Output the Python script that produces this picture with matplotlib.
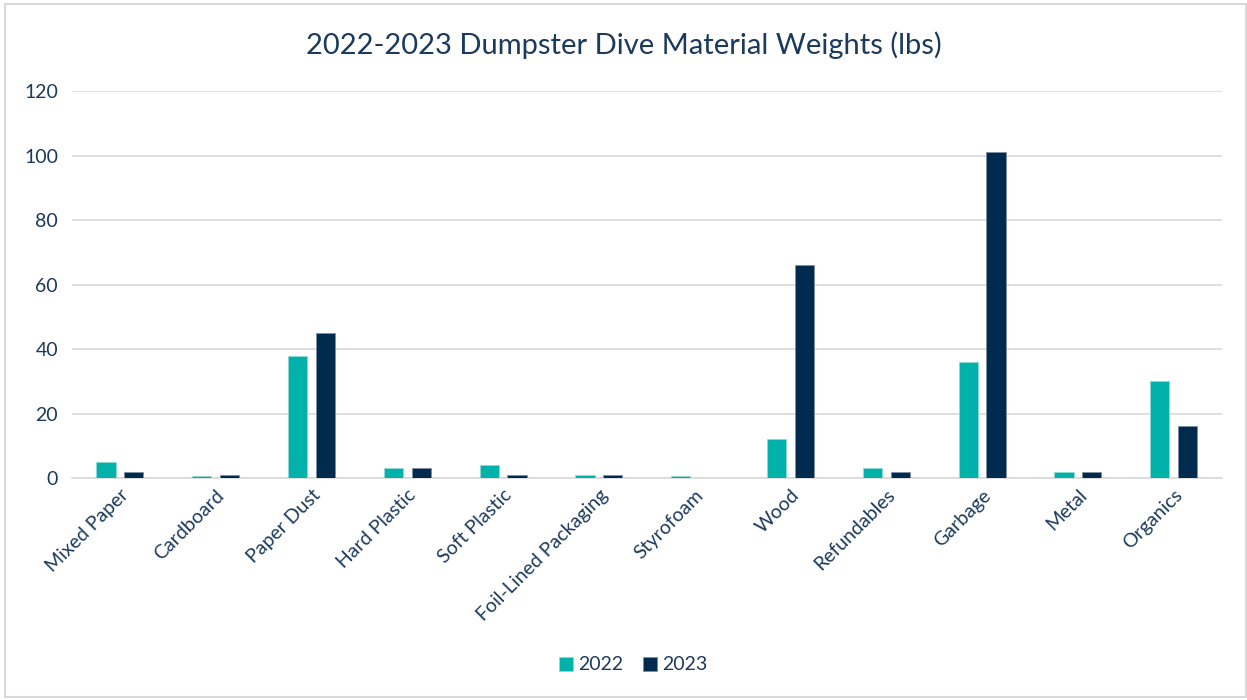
import numpy as np
import matplotlib
import matplotlib.pyplot as plt
from matplotlib.patches import Rectangle

matplotlib.rcParams['font.family'] = ['Lato', 'DejaVu Sans']

categories = ['Mixed Paper', 'Cardboard', 'Paper Dust', 'Hard Plastic', 'Soft Plastic',
              'Foil-Lined Packaging', 'Styrofoam', 'Wood', 'Refundables', 'Garbage',
              'Metal', 'Organics']
w2022 = [5, 0.5, 38, 3, 4, 1, 0.5, 12, 3, 36, 2, 30]
w2023 = [2, 1, 45, 3, 1, 1, 0, 66, 2, 101, 2, 16]
yticks = [0, 20, 40, 60, 80, 100, 120]

teal = '#00B2A9'
navy = '#002A4E'
txt = '#1B3A5C'

fig = plt.figure(figsize=(12.47, 7), dpi=100)
ax = fig.add_axes([0.0577, 0.317, 0.922, 0.553])

x = np.arange(len(categories))
off = 0.145
bw = 0.2
ax.bar(x - off, w2022, bw, color=teal, edgecolor='#8fd8d3', linewidth=0.6, label='2022', zorder=3)
ax.bar(x + off, w2023, bw, color=navy, edgecolor='#7d8fa3', linewidth=0.6, label='2023', zorder=3)

ax.set_xlim(-0.5, len(categories) - 0.5)
ax.set_ylim(0, 120)
ax.set_yticks(yticks)
ax.set_yticklabels([str(v) for v in yticks], fontsize=14, color=txt)
ax.yaxis.grid(True, color='#d9d9d9', linewidth=1.2, zorder=0)
ax.tick_params(axis='y', length=0, pad=10)
ax.tick_params(axis='x', length=0, pad=6)
ax.set_xticks(x)
ax.set_xticklabels(categories, rotation=45, ha='right', rotation_mode='anchor',
                   fontsize=14, color=txt)
for s in ['top', 'right', 'left']:
    ax.spines[s].set_visible(False)
ax.spines['bottom'].set_color('#d9d9d9')
ax.spines['bottom'].set_linewidth(1.2)

fig.text(0.5, 0.935, '2022-2023 Dumpster Dive Material Weights (lbs)', ha='center',
         va='center', fontsize=21, color=txt)

fig.legend(loc='center', bbox_to_anchor=(0.508, 0.05), ncol=2, frameon=False,
           fontsize=14, labelcolor=txt, handlelength=0.7, handleheight=0.7,
           columnspacing=1.0, handletextpad=0.3)

fig.patches.append(Rectangle((0.004, 0.004), 0.995, 0.99, transform=fig.transFigure,
                             fill=False, edgecolor='#d9d9d9', linewidth=1.5))

fig.savefig('out.png', dpi=100)
